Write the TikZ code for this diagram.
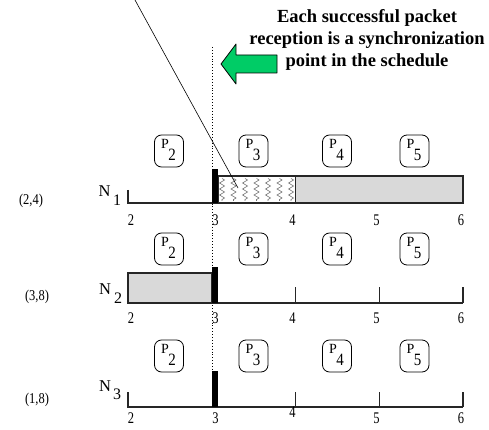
\documentclass[tikz,border=0pt]{standalone}
\usepackage{fontspec}
\setmainfont{Liberation Serif}
\usepackage{graphicx}
\usetikzlibrary{decorations.pathmorphing,calc}
\definecolor{arrowgreen}{RGB}{0,204,102}
\definecolor{boxgray}{RGB}{217,217,217}
\tikzset{
  pbox/.style={draw, rounded corners=7pt, minimum width=29pt, minimum height=32pt, inner sep=0pt, line width=0.8pt},
  lbl/.style={inner sep=0pt, font=\fontsize{12.5}{12.5}\selectfont, yscale=1.3, transform shape},
  plbl/.style={inner sep=0pt, font=\fontsize{14}{14}\selectfont},
  sub/.style={inner sep=0pt, font=\fontsize{15}{15}\selectfont, yscale=1.15, transform shape},
  pair/.style={inner sep=0pt, font=\fontsize{12.5}{12.5}\selectfont, yscale=1.2, transform shape},
  nlbl/.style={inner sep=0pt, font=\fontsize{16.5}{16.5}\selectfont},
  nsub/.style={inner sep=0pt, font=\fontsize{16}{16}\selectfont},
  axis/.style={line width=1.1pt, draw=black!85},
  zig/.style={draw=black!55, line width=0.6pt, decorate, decoration={zigzag, segment length=6pt, amplitude=2.5pt}},
  bar/.style={fill=black}
}
\begin{document}
\begin{tikzpicture}[x=1pt,y=-1pt]
\useasboundingbox (0,0) rectangle (489,430);

% title
\node[font=\bfseries\fontsize{18.5}{22}\selectfont, align=center, inner sep=0pt] (title) at (367,40) {Each successful packet\\reception is a synchronization\\point in the schedule};

% green arrow
\draw[fill=arrowgreen, line width=0.8pt, line join=round] (221,64) -- (236,44) -- (236,55) -- (277,55) -- (277,73) -- (236,73) -- (236,84) -- cycle;

% diagonal pointer
\coordinate (dtop) at (135,0);
\coordinate (dend) at (238,188);

% ---------- Row 1 ----------
\draw[axis, fill=boxgray] (295.5,176) rectangle (463,203);
\draw[axis] (218,176) rectangle (295.5,203);
\foreach \x in {222,233.5,245,256.5,268,279.5,291}
  \draw[zig] (\x,178.5) -- (\x,201);
\draw[axis] (128,190) -- (128,203) -- (218,203);
\fill[bar] (211.75,169) rectangle (218,203);

% ---------- Row 2 ----------
\draw[axis, fill=boxgray] (128,273) rectangle (211.75,303);
\draw[axis] (211.75,303) -- (463,303);
\foreach \x in {295.5,379.25,463}
  \draw[axis] (\x,287) -- (\x,303);
\fill[bar] (211.75,267) rectangle (218,303);

% ---------- Row 3 ----------
\draw[axis] (128,392) -- (128,407) -- (463,407);
\foreach \x in {295.5,379.25,463}
  \draw[axis] (\x,392) -- (\x,407);
\fill[bar] (211.75,371) rectangle (218,407);

% tick labels
\foreach \r/\y in {1/220,2/318,3/418} {
  \node[lbl] (t2\r) at (131,\y) {2};
  \node[lbl] (t3\r) at (215.5,\y) {3};
  \node[lbl] (t5\r) at (376.5,\y) {5};
  \node[lbl] (t6\r) at (461,\y) {6};
}
\node[lbl] (t41) at (292.5,220) {4};
\node[lbl] (t42) at (292.5,318) {4};
\node[lbl] (t43) at (292.5,412) {4};

% P boxes
\foreach \r/\y in {1/151,2/249,3/356} {
  \foreach \k/\x in {2/169,3/253.5,4/337,5/414.5} {
    \node[pbox] (p\r\k) at (\x,\y) {};
    \node[plbl] (pl\r\k) at ($(p\r\k)+(-4,-7)$) {P};
    \node[sub] (ps\r\k) at ($(p\r\k)+(3,4)$) {\k};
  }
}

% N labels
\node[nlbl] (n1) at (104.5,191) {N};
\node[nsub] (n1s) at (117,200) {1};
\node[nlbl] (n2) at (105,289) {N};
\node[nsub] (n2s) at (118,298) {2};
\node[nlbl] (n3) at (105,386) {N};
\node[nsub] (n3s) at (117,394) {3};

% left pairs
\node[pair] (c1) at (31,201) {(2,4)};
\node[pair] (c2) at (37,297) {(3,8)};
\node[pair] (c3) at (37,400) {(1,8)};

% dotted sync line and pointer
\draw[dotted, line width=0.9pt] (212,47) -- (212,371);
\draw[line width=0.6pt] (dtop) -- (dend);
\end{tikzpicture}
\end{document}
